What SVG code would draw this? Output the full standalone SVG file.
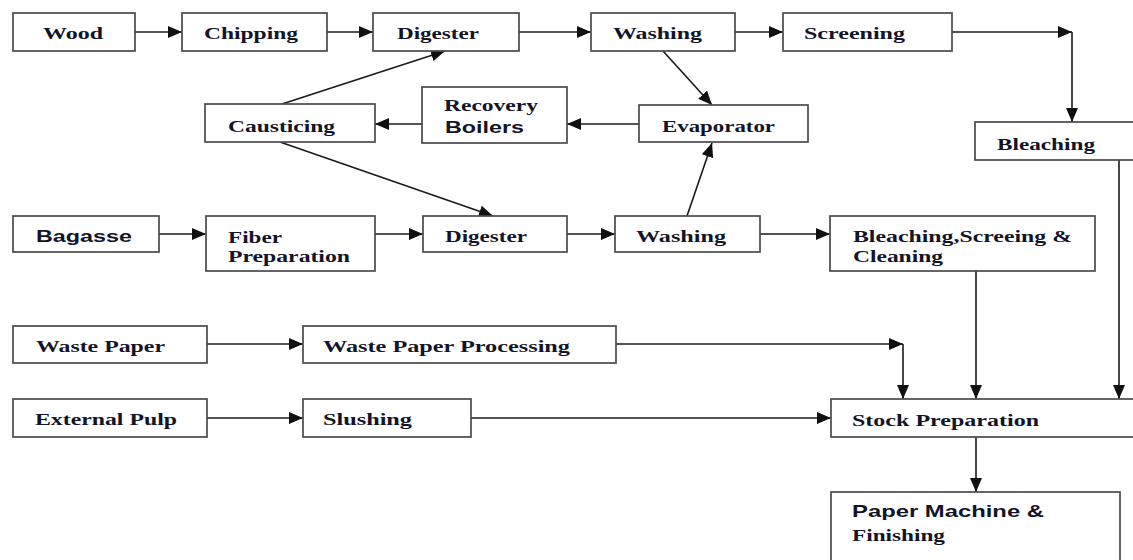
<svg xmlns="http://www.w3.org/2000/svg" width="1133" height="560" viewBox="0 0 1133 560">
<style>
.box{fill:#fff;stroke:#4a4a4a;stroke-width:1.7}
.t{font-family:"Liberation Serif","Times New Roman",serif;font-weight:bold;font-size:17px;fill:#141428}
.a{font-family:"Liberation Sans",Arial,sans-serif;font-weight:bold;font-size:17px;fill:#141428}
.c{fill:none;stroke:#1a1a1a;stroke-width:1.6}
</style>
<defs>
<marker id="ah" markerUnits="userSpaceOnUse" markerWidth="14" markerHeight="12" refX="14" refY="6" orient="auto">
<path d="M0,0 L14,6 L0,12 z" fill="#111"/>
</marker>
</defs>
<rect width="1133" height="560" fill="#fff"/>
<g id="connectors">
<line class="c" x1="135" y1="32" x2="182" y2="32" marker-end="url(#ah)"/>
<line class="c" x1="327" y1="32" x2="373" y2="32" marker-end="url(#ah)"/>
<line class="c" x1="519" y1="32" x2="591" y2="32" marker-end="url(#ah)"/>
<line class="c" x1="735" y1="32" x2="783" y2="32" marker-end="url(#ah)"/>
<line class="c" x1="952" y1="32" x2="1072" y2="32" marker-end="url(#ah)"/>
<line class="c" x1="1072" y1="32" x2="1072" y2="122" marker-end="url(#ah)"/>
<line class="c" x1="663" y1="51" x2="712" y2="105" marker-end="url(#ah)"/>
<line class="c" x1="639" y1="124" x2="567" y2="124" marker-end="url(#ah)"/>
<line class="c" x1="422" y1="124" x2="375" y2="124" marker-end="url(#ah)"/>
<line class="c" x1="282" y1="104" x2="445" y2="51" marker-end="url(#ah)"/>
<line class="c" x1="280" y1="142" x2="493" y2="216" marker-end="url(#ah)"/>
<line class="c" x1="687" y1="216" x2="712" y2="143" marker-end="url(#ah)"/>
<line class="c" x1="159" y1="234" x2="206" y2="234" marker-end="url(#ah)"/>
<line class="c" x1="375" y1="234" x2="423" y2="234" marker-end="url(#ah)"/>
<line class="c" x1="567" y1="234" x2="615" y2="234" marker-end="url(#ah)"/>
<line class="c" x1="760" y1="234" x2="830" y2="234" marker-end="url(#ah)"/>
<line class="c" x1="207" y1="344" x2="303" y2="344" marker-end="url(#ah)"/>
<line class="c" x1="616" y1="344" x2="903" y2="344" marker-end="url(#ah)"/>
<line class="c" x1="903" y1="344" x2="903" y2="399" marker-end="url(#ah)"/>
<line class="c" x1="207" y1="418" x2="303" y2="418" marker-end="url(#ah)"/>
<line class="c" x1="471" y1="418" x2="831" y2="418" marker-end="url(#ah)"/>
<line class="c" x1="976" y1="271" x2="976" y2="399" marker-end="url(#ah)"/>
<line class="c" x1="1119" y1="160" x2="1119" y2="399" marker-end="url(#ah)"/>
<line class="c" x1="976" y1="437" x2="976" y2="492" marker-end="url(#ah)"/>
</g>
<g id="wood"><rect class="box" x="13" y="13" width="122" height="38"/><text class="t" x="43" y="39" textLength="60" lengthAdjust="spacingAndGlyphs">Wood</text></g>
<g id="chipping"><rect class="box" x="182" y="13" width="145" height="38"/><text class="t" x="204" y="39" textLength="94" lengthAdjust="spacingAndGlyphs">Chipping</text></g>
<g id="digester1"><rect class="box" x="373" y="13" width="146" height="38"/><text class="t" x="397" y="39" textLength="82" lengthAdjust="spacingAndGlyphs">Digester</text></g>
<g id="washing1"><rect class="box" x="591" y="13" width="144" height="38"/><text class="t" x="613" y="39" textLength="89" lengthAdjust="spacingAndGlyphs">Washing</text></g>
<g id="screening"><rect class="box" x="783" y="13" width="169" height="38"/><text class="t" x="804" y="39" textLength="101" lengthAdjust="spacingAndGlyphs">Screening</text></g>
<g id="causticing"><rect class="box" x="205" y="104" width="170" height="38"/><text class="t" x="228" y="132" textLength="107" lengthAdjust="spacingAndGlyphs">Causticing</text></g>
<g id="recovery"><rect class="box" x="422" y="87" width="145" height="56"/><text class="t" x="444" y="111" textLength="94" lengthAdjust="spacingAndGlyphs">Recovery</text><text class="a" x="445" y="133" textLength="79" lengthAdjust="spacingAndGlyphs">Boilers</text></g>
<g id="evaporator"><rect class="box" x="639" y="105" width="169" height="37"/><text class="t" x="662" y="132" textLength="113" lengthAdjust="spacingAndGlyphs">Evaporator</text></g>
<g id="bleaching"><rect class="box" x="975" y="122" width="170" height="38"/><text class="t" x="997" y="150" textLength="98" lengthAdjust="spacingAndGlyphs">Bleaching</text></g>
<g id="bagasse"><rect class="box" x="13" y="216" width="146" height="36"/><text class="a" x="36" y="242" font-size="18" textLength="96" lengthAdjust="spacingAndGlyphs">Bagasse</text></g>
<g id="fiber"><rect class="box" x="206" y="216" width="169" height="55"/><text class="t" x="228" y="243" textLength="54" lengthAdjust="spacingAndGlyphs">Fiber</text><text class="t" x="228" y="262" textLength="122" lengthAdjust="spacingAndGlyphs">Preparation</text></g>
<g id="digester2"><rect class="box" x="423" y="216" width="144" height="36"/><text class="t" x="445" y="242" textLength="82" lengthAdjust="spacingAndGlyphs">Digester</text></g>
<g id="washing2"><rect class="box" x="615" y="216" width="145" height="36"/><text class="t" x="636" y="242" textLength="90" lengthAdjust="spacingAndGlyphs">Washing</text></g>
<g id="bsc"><rect class="box" x="830" y="216" width="265" height="55"/><text class="t" x="853" y="242" textLength="219" lengthAdjust="spacingAndGlyphs">Bleaching,Screeing &amp;</text><text class="t" x="853" y="262" textLength="90" lengthAdjust="spacingAndGlyphs">Cleaning</text></g>
<g id="wastepaper"><rect class="box" x="13" y="326" width="194" height="37"/><text class="t" x="36" y="352" textLength="129" lengthAdjust="spacingAndGlyphs">Waste Paper</text></g>
<g id="wpp"><rect class="box" x="303" y="326" width="313" height="37"/><text class="t" x="323" y="352" textLength="247" lengthAdjust="spacingAndGlyphs">Waste Paper Processing</text></g>
<g id="externalpulp"><rect class="box" x="13" y="399" width="194" height="38"/><text class="t" x="35" y="425" textLength="142" lengthAdjust="spacingAndGlyphs">External Pulp</text></g>
<g id="slushing"><rect class="box" x="303" y="399" width="168" height="38"/><text class="t" x="323" y="425" textLength="89" lengthAdjust="spacingAndGlyphs">Slushing</text></g>
<g id="stock"><rect class="box" x="831" y="399" width="310" height="38"/><text class="t" x="852" y="426" textLength="187" lengthAdjust="spacingAndGlyphs">Stock Preparation</text></g>
<g id="papermachine"><rect class="box" x="831" y="492" width="289" height="80"/><text class="a" x="852" y="517" font-size="18" textLength="192" lengthAdjust="spacingAndGlyphs">Paper Machine &amp;</text><text class="t" x="852" y="541" textLength="93" lengthAdjust="spacingAndGlyphs">Finishing</text></g>
</svg>
